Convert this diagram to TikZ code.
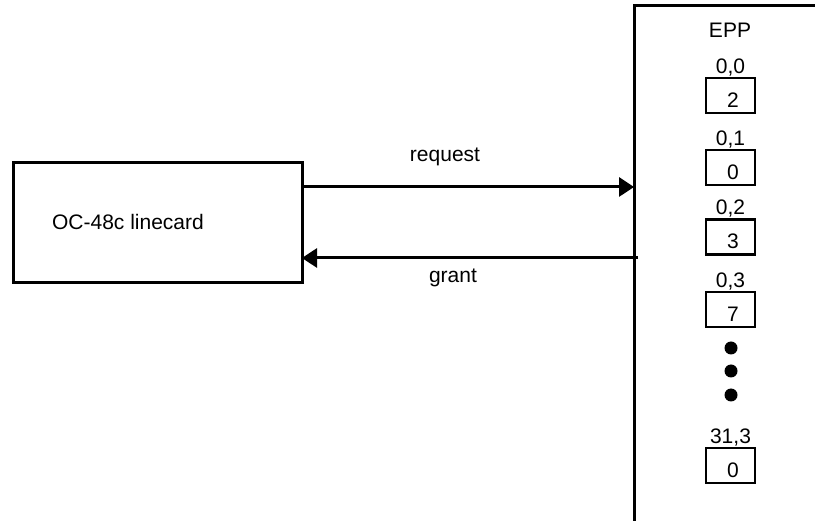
\documentclass[tikz,border=0pt]{standalone}
\usepackage{fontspec}
\setmainfont{Liberation Sans}
\usetikzlibrary{arrows.meta}
\begin{document}
\begin{tikzpicture}[x=1pt,y=-1pt,
  txt/.style={inner sep=0pt,font=\fontsize{21}{24}\selectfont},
  frame/.style={draw,line width=3pt,outer sep=0pt,inner sep=0pt},
  slotbox/.style={draw,line width=2.6pt,outer sep=0pt,inner sep=0pt,minimum width=49pt,minimum height=35pt},
  arr/.style={line width=3pt,-{Triangle[length=15pt,width=19pt]}},
  dotmark/.style={fill=black,circle,inner sep=0pt,minimum size=13pt}]
\useasboundingbox (0,0) rectangle (815,521);
% linecard
\node[frame,minimum width=289pt,minimum height=120pt] (card) at (157.5,223) {};
\node[txt] (cardlbl) at (128,222) {OC-48c linecard};
% EPP panel
\coordinate (eppTR) at (815,6);
\coordinate (eppTL) at (634,6);
\coordinate (eppB) at (634,521);
\draw[line width=3pt] (eppTR) -- (eppTL) -- (eppB);
\node[txt] (epp) at (730,30) {EPP};
% arrows
\coordinate (reqE) at (634,187);
\coordinate (grS) at (638,258);
\draw[arr] (card.east |- reqE) -- (reqE);
\draw[arr] (grS) -- (card.east |- grS);
\node[txt] (reqlbl) at (445,157) {request};
\node[txt] (grlbl) at (453,278) {grant};
% slots
\foreach \n/\l/\v/\y in {a/{0,0}/2/95.5, b/{0,1}/0/167.5, c/{0,2}/3/237, d/{0,3}/7/309.5, e/{31,3}/0/465.5}{
  \node[slotbox] (box\n) at (730.5,\y) {};
  \node[txt] (val\n) at ([xshift=2.5pt,yshift=-4.5pt]box\n.center) {\v};
  \node[txt,anchor=south] (lbl\n) at ([yshift=2pt]box\n.north) {\l};
}
\node[dotmark] (d1) at (731,348) {};
\node[dotmark] (d2) at (731,371) {};
\node[dotmark] (d3) at (731,395) {};
\end{tikzpicture}
\end{document}
